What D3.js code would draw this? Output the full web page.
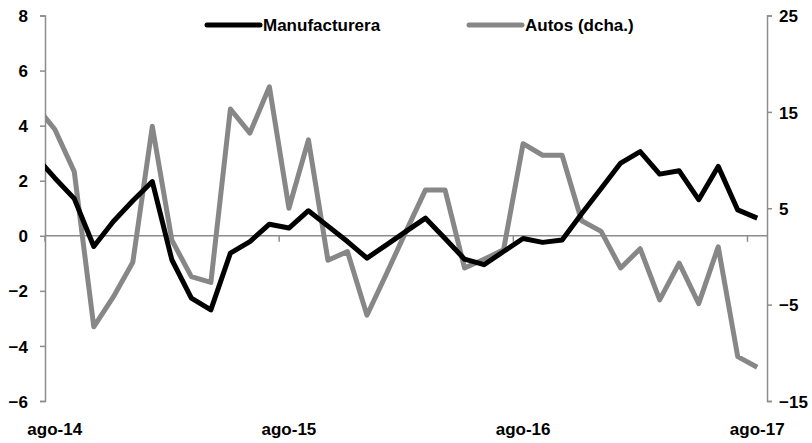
<!DOCTYPE html>
<html><head><meta charset="utf-8">
<script src="https://cdn.jsdelivr.net/npm/d3@7"></script>
<style>
html,body{margin:0;padding:0;background:#fff;}
text{font-family:"Liberation Sans Narrow","Arial Narrow","Liberation Sans",Arial,sans-serif;font-weight:bold;fill:#000;}
</style></head>
<body><svg id="c" width="812" height="443"></svg>
<script>
const months = ["ago-14","sep-14","oct-14","nov-14","dic-14","ene-15","feb-15","mar-15","abr-15","may-15","jun-15","jul-15",
"ago-15","sep-15","oct-15","nov-15","dic-15","ene-16","feb-16","mar-16","abr-16","may-16","jun-16","jul-16",
"ago-16","sep-16","oct-16","nov-16","dic-16","ene-17","feb-17","mar-17","abr-17","may-17","jun-17","jul-17","ago-17"];
const manufacturera = [2.1,1.35,-0.39,0.52,1.27,1.97,-0.87,-2.26,-2.69,-0.63,-0.21,0.42,0.28,0.91,0.35,-0.21,-0.81,-0.33,0.16,0.64,
-0.1,-0.85,-1.05,-0.57,-0.1,-0.24,-0.15,0.8,1.72,2.64,3.06,2.24,2.36,1.31,2.52,0.94,0.64];
const autos = [13.2,8.8,-7.3,-4.2,-0.6,13.5,1.7,-2.1,-2.7,15.3,12.8,17.6,5.0,12.1,-0.4,0.5,-6.1,-1.8,2.6,6.9,
6.9,-1.2,-0.3,0.7,11.7,10.5,10.5,3.7,2.6,-1.2,0.8,-4.5,-0.7,-4.9,1.0,-10.4,-11.5];
// previous month (jul-14), only partly visible: the line enters from the left edge of the plot
const prevMonth = "jul-14";
const manufactureraPrev = 2.9;
const autosPrev = 15.7;
const leftTicks = [-6,-4,-2,0,2,4,6,8];
const rightTicks = [-15,-5,5,15,25];
const xLabels = ["ago-14","ago-15","ago-16","ago-17"];
const seriesNames = ["Manufacturera","Autos (dcha.)"];

const svg = d3.select("#c");
const L = 45, R = 767, T = 15.5, B = 401;
const axisCol = "#8c8c8c", grayCol = "#878787";

const x = d3.scaleBand().domain(months).range([L, R]).paddingInner(0).paddingOuter(0);
const xc = d => x(d) + x.bandwidth()/2;
const xPrev = xc(months[0]) - x.bandwidth();
const yL = d3.scaleLinear().domain([-6, 8]).range([B, T]);
const yR = d3.scaleLinear().domain([-15, 25]).range([B, T]);

svg.append("clipPath").attr("id","plotclip").append("rect")
  .attr("x", L).attr("y", 0).attr("width", R - L).attr("height", 443);

// left axis
const gL = svg.append("g").attr("transform", `translate(${L},0)`)
  .call(d3.axisLeft(yL).tickValues(leftTicks).tickSize(5).tickPadding(12));
gL.select(".domain").attr("stroke", axisCol).attr("stroke-width", 1.5);
gL.selectAll(".tick line").attr("stroke", axisCol).attr("stroke-width", 1.5);
gL.selectAll(".tick text").style("font-size", "17px").attr("dy", "0.36em");

// right axis
const gR = svg.append("g").attr("transform", `translate(${R},0)`)
  .call(d3.axisRight(yR).tickValues(rightTicks).tickSize(5).tickPadding(7));
gR.select(".domain").attr("stroke", axisCol).attr("stroke-width", 1.5);
gR.selectAll(".tick line").attr("stroke", axisCol).attr("stroke-width", 1.5);
gR.selectAll(".tick text").style("font-size", "17px").attr("dy", "0.36em");

// zero line with x ticks
svg.append("line").attr("x1", L).attr("x2", R).attr("y1", yL(0)).attr("y2", yL(0))
  .attr("stroke", axisCol).attr("stroke-width", 1.5);
const tickIdx = months.map((m,i)=>i).filter(i => i % 12 === 0);
svg.selectAll("line.xt").data(tickIdx).join("line").attr("class","xt")
  .attr("x1", i => x(months[i])).attr("x2", i => x(months[i]))
  .attr("y1", yL(0)).attr("y2", yL(0) + 6)
  .attr("stroke", axisCol).attr("stroke-width", 1.5);

// x labels
svg.selectAll("text.xl").data(xLabels).join("text").attr("class","xl")
  .attr("x", d => xc(d)).attr("y", 435).attr("text-anchor", "middle")
  .style("font-size", "17px").text(d => d);

// lines (with the partly visible previous month, clipped to the plot)
const px = i => i < 0 ? xPrev : xc(months[i]);
const lineL = d3.line().x((d,i) => px(i - 1)).y(d => yL(d));
const lineR = d3.line().x((d,i) => px(i - 1)).y(d => yR(d));
const gLines = svg.append("g").attr("clip-path","url(#plotclip)");
gLines.append("path").datum([autosPrev, ...autos]).attr("d", lineR).attr("fill","none")
  .attr("stroke", grayCol).attr("stroke-width", 5).attr("stroke-linejoin","round");
gLines.append("path").datum([manufactureraPrev, ...manufacturera]).attr("d", lineL).attr("fill","none")
  .attr("stroke", "#000").attr("stroke-width", 5).attr("stroke-linejoin","round");

// legend
const leg = [{name: seriesNames[0], col: "#000", x0: 207}, {name: seriesNames[1], col: grayCol, x0: 469}];
const lg = svg.selectAll("g.leg").data(leg).join("g").attr("class","leg");
lg.append("line").attr("x1", d => d.x0).attr("x2", d => d.x0 + 53).attr("y1", 25).attr("y2", 25)
  .attr("stroke", d => d.col).attr("stroke-width", 5).attr("stroke-linecap","round");
lg.append("text").attr("x", d => d.x0 + 56).attr("y", 25).attr("dy","0.36em")
  .style("font-size","17px").text(d => d.name);
</script></body></html>
